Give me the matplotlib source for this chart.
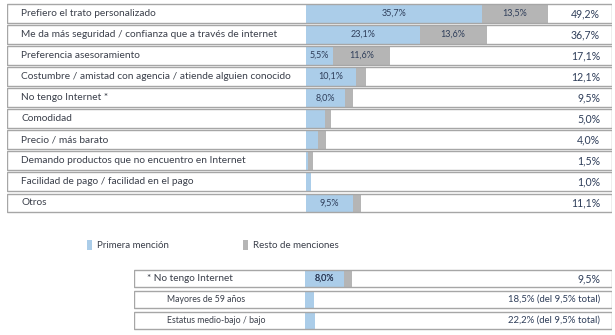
import matplotlib.pyplot as plt
from matplotlib.patches import Patch

plt.rcParams['font.family'] = ['Lato', 'DejaVu Sans']

labels = ["Prefiero el trato personalizado",
          "Me da más seguridad / confianza que a través de internet",
          "Preferencia asesoramiento",
          "Costumbre / amistad con agencia / atiende alguien conocido",
          "No tengo Internet *",
          "Comodidad",
          "Precio / más barato",
          "Demando productos que no encuentro en Internet",
          "Facilidad de pago / facilidad en el pago",
          "Otros"]
primera = [35.7, 23.1, 5.5, 10.1, 8.0, 3.9, 2.5, 0.5, 1.0, 9.5]
resto = [13.5, 13.6, 11.6, 2.0, 1.5, 1.1, 1.5, 1.0, 0.0, 1.6]
totales = [49.2, 36.7, 17.1, 12.1, 9.5, 5.0, 4.0, 1.5, 1.0, 11.1]

sub_labels = ["* No tengo Internet", "Mayores de 59 años", "Estatus medio-bajo / bajo"]
sub_primera = [8.0, 1.8, 2.1]
sub_resto = [1.5, 0.0, 0.0]
sub_totales = ["9,5%", "18,5% (del 9,5% total)", "22,2% (del 9,5% total)"]

BLUE = '#abcde9'
GREY = '#b5b5b5'
EDGE = '#a6a6a6'
TXT = '#3a3f4a'
VAL = '#2f3e5a'
W, H = 615, 335
PX = 4.92  # pixels per percentage point


def fmt(v):
    return f"{v:.1f}".replace('.', ',') + '%'


def table(ax, names, blue, grey, totals, left_px, zero_px, right_px,
          box_h, indents, fs, inner=True):
    xmin = -(zero_px - left_px) / PX
    xmax = (right_px - zero_px) / PX
    n = len(names)
    y = list(range(n))
    ax.barh(y, [xmax - xmin] * n, left=xmin, height=box_h,
            color='white', edgecolor='none', zorder=1)
    ax.barh(y, blue, left=0, height=box_h, color=BLUE, zorder=2)
    ax.barh(y, grey, left=blue, height=box_h, color=GREY, zorder=2)
    ax.barh(y, [xmax - xmin] * n, left=xmin, height=box_h,
            facecolor='none', edgecolor=EDGE, linewidth=1.0, zorder=3)
    for i in y:
        ax.text(xmin + indents[i] / PX, i, names[i], va='center', ha='left',
                fontsize=fs[i], color=TXT, zorder=4)
        ax.text(xmax - 12 / PX, i, totals[i], va='center', ha='right',
                fontsize=7.6 if fs[i] > 7 else 6.9, color=VAL, zorder=4)
        if inner and blue[i] >= 5:
            ax.text(blue[i] / 2, i, fmt(blue[i]), va='center', ha='center',
                    fontsize=6.5, color=VAL, zorder=4)
        if inner and grey[i] >= 5:
            ax.text(blue[i] + grey[i] / 2, i, fmt(grey[i]), va='center',
                    ha='center', fontsize=6.5, color=VAL, zorder=4)
    ax.set_xlim(xmin, xmax)
    ax.set_ylim(n - 0.5, -0.5)
    ax.axis('off')


fig = plt.figure(figsize=(W / 100, H / 100), dpi=100)

# top table
top, bottom = 3.0, 213.5
ax1 = fig.add_axes([7 / W, 1 - bottom / H, 605 / W, (bottom - top) / H])
table(ax1, labels, primera, resto, [fmt(t) for t in totales],
      7, 306, 612, 0.9, [14] * len(labels), [7.3] * len(labels))

# bottom table
top2, bottom2 = 268.0, 330.8
ax2 = fig.add_axes([134 / W, 1 - bottom2 / H, 478 / W, (bottom2 - top2) / H])
table(ax2, sub_labels, sub_primera, sub_resto, sub_totales,
      134, 305, 612, 0.82, [13, 33, 33], [7.2, 6.3, 6.3])
ax2.text(sub_primera[0] / 2, 0, fmt(sub_primera[0]), va='center', ha='center',
         fontsize=6.5, color=VAL, zorder=4)

handles = [Patch(facecolor=BLUE, edgecolor='none'),
           Patch(facecolor=GREY, edgecolor='none')]
fig.legend(handles, ["Primera mención", "Resto de menciones"], ncol=2,
           loc='center left', bbox_to_anchor=(87 / W, 1 - 245 / H),
           frameon=False, fontsize=7.0, labelcolor=TXT,
           handlelength=0.55, handleheight=1.3, handletextpad=0.5,
           columnspacing=7.6, borderpad=0, borderaxespad=0)

fig.savefig("out.png", dpi=100, facecolor='white')
